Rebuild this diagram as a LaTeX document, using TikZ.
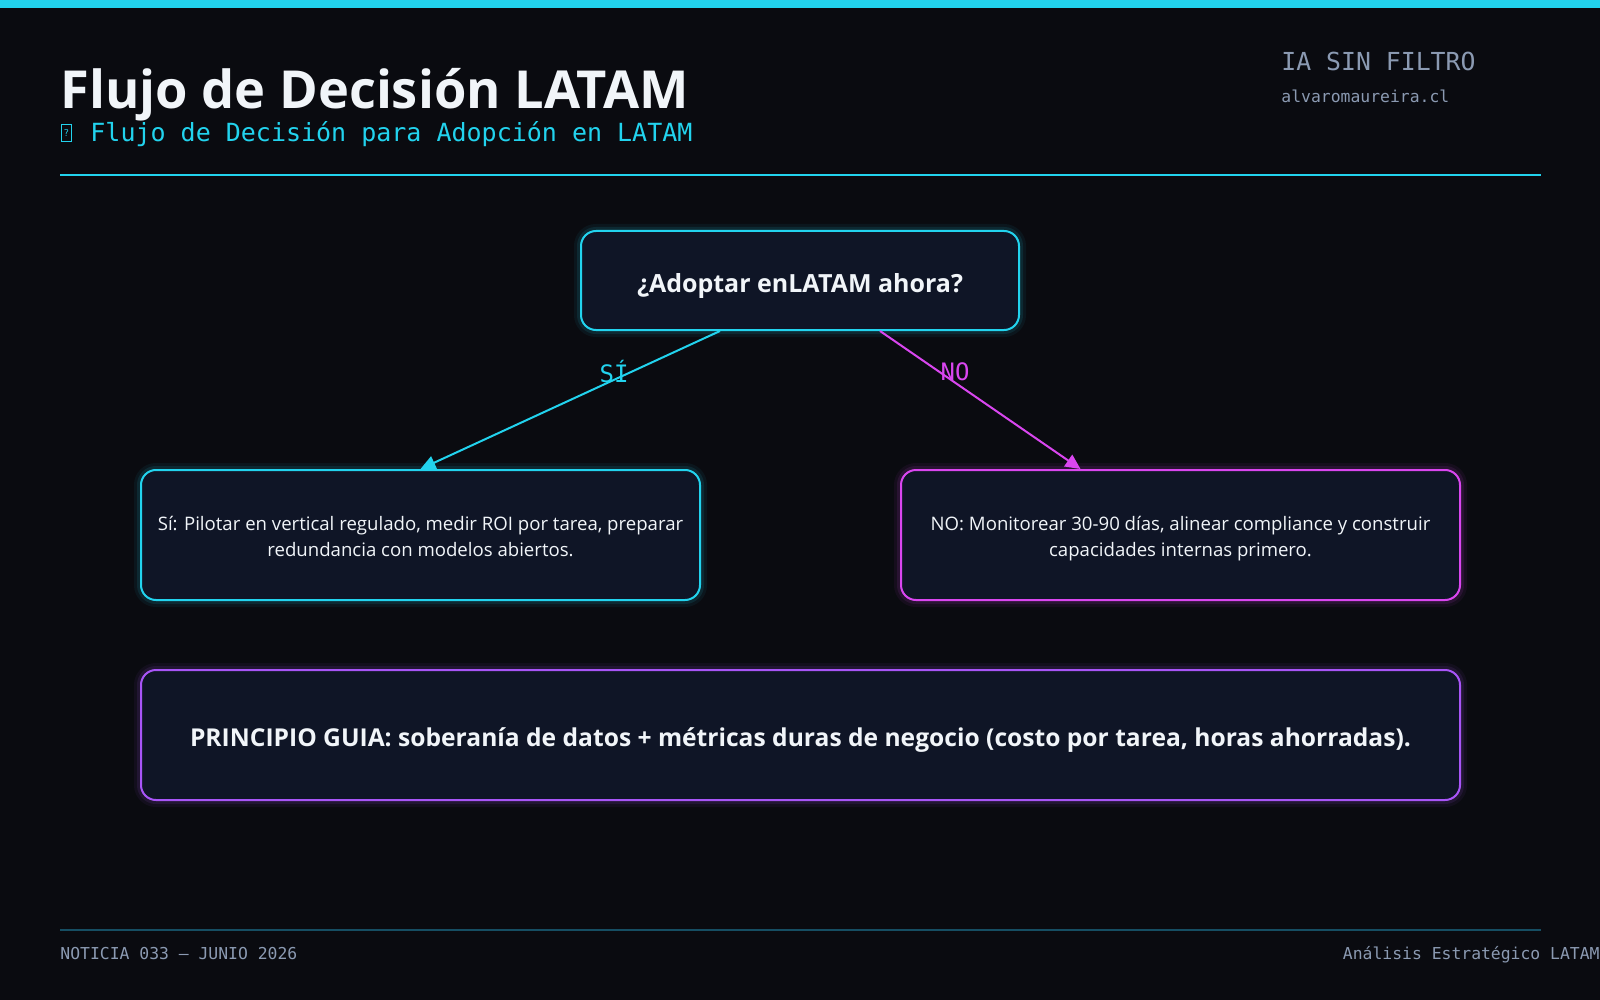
\documentclass[tikz,border=0pt]{standalone}
\usepackage{fontspec}
\setmainfont{Open Sans}
\setmonofont{DejaVu Sans Mono}
\usetikzlibrary{arrows.meta,calc}
\definecolor{bg}{HTML}{0A0B10}
\definecolor{cyanc}{HTML}{22D3EE}
\definecolor{magc}{HTML}{D946EF}
\definecolor{purc}{HTML}{A855F7}
\definecolor{nodefill}{HTML}{0F1526}
\definecolor{txtc}{HTML}{F1F5F9}
\definecolor{grayc}{HTML}{8B9AB2}
\definecolor{footline}{HTML}{164E63}
\tikzset{
  box/.style={draw=#1, line width=1pt, fill=nodefill, rounded corners=7.5pt,
    inner sep=0pt, align=center, text=txtc, text depth=0pt,
    preaction={draw=#1, draw opacity=0.06, line width=7pt},
    preaction={draw=#1, draw opacity=0.10, line width=4pt}},
  conn/.style={line width=1pt, draw=#1, -{Triangle[length=7.5pt,width=7pt]}},
  lbl/.style={font=\ttfamily\fontsize{12}{14}\selectfont, text=#1, inner sep=0pt},
  monogray/.style={font=\ttfamily\fontsize{8.2}{10}\selectfont, text=grayc, inner sep=0pt}
}
\begin{document}
\begin{tikzpicture}[x=0.5pt,y=-0.5pt]
\fill[bg] (0,0) rectangle (1600,1000);
\useasboundingbox (0,0) rectangle (1600,1000);
\fill[cyanc] (0,0) rectangle (1600,8);
% header
\node[anchor=base west, inner sep=0pt, text=txtc, font=\bfseries\fontsize{26.2}{31}\selectfont] (title) at (60,109) {Flujo de Decisión LATAM};
\node[draw=cyanc, line width=0.5pt, minimum width=5pt, minimum height=8.5pt, inner sep=0pt, anchor=south west] (tofu) at (61,142) {};
\node[inner sep=0pt, text=cyanc, font=\sffamily\fontsize{5}{6}\selectfont] (tofuq) at (tofu.center) {?};
\node[anchor=base west, inner sep=0pt, text=cyanc, font=\ttfamily\fontsize{12.5}{15}\selectfont] (subtitle) at (90,142) {Flujo de Decisión para Adopción en LATAM};
\node[anchor=base west, inner sep=0pt, text=grayc, font=\ttfamily\fontsize{12.4}{15}\selectfont] (brand) at (1281,71) {IA SIN FILTRO};
\node[monogray, anchor=base west] (site) at (1281,103) {alvaromaureira.cl};
\coordinate (hl1) at (60,175.5);
\coordinate (hl2) at (1541,175.5);
\draw[cyanc, line width=1pt] (hl1) -- (hl2);
% nodes
\node[box=cyanc, minimum width=219pt, minimum height=49.5pt, text height=12.2pt, font=\bfseries\fontsize{12.5}{14}\selectfont] (top) at (800,280.5) {¿Adoptar enLATAM ahora?};
\node[box=cyanc, minimum width=279.5pt, minimum height=65pt, text height=21pt, font=\fontsize{9.3}{13}\selectfont] (left) at (420.5,535) {Sí: Pilotar en vertical regulado, medir ROI por tarea, preparar\\redundancia con modelos abiertos.};
\node[box=magc, minimum width=279.5pt, minimum height=65pt, text height=21pt, font=\fontsize{9.3}{13}\selectfont] (right) at (1180.5,535) {NO: Monitorear 30-90 días, alinear compliance y construir\\capacidades internas primero.};
\node[box=purc, minimum width=659.5pt, minimum height=65pt, text height=11.7pt, font=\bfseries\fontsize{12.3}{14}\selectfont] (guide) at (800.5,735) {PRINCIPIO GUIA: soberanía de datos + métricas duras de negocio (costo por tarea, horas ahorradas).};
% connectors
\draw[conn=cyanc] ($(top.south)+(-80,0)$) -- (left.north);
\draw[conn=magc] ($(top.south)+(80,0)$) -- ($(right.north)+(-100,0)$);
\node[lbl=cyanc] (si) at (614,372) {SÍ};
\node[lbl=magc] (no) at (955,372) {NO};
% footer
\coordinate (fl1) at (60,930);
\coordinate (fl2) at (1541,930);
\draw[footline, line width=0.6pt] (fl1) -- (fl2);
\node[monogray, anchor=base west] (foot1) at (60,959) {NOTICIA 033 — JUNIO 2026};
\node[monogray, anchor=base east] (foot2) at (1600,959) {Análisis Estratégico LATAM};
\end{tikzpicture}
\end{document}
